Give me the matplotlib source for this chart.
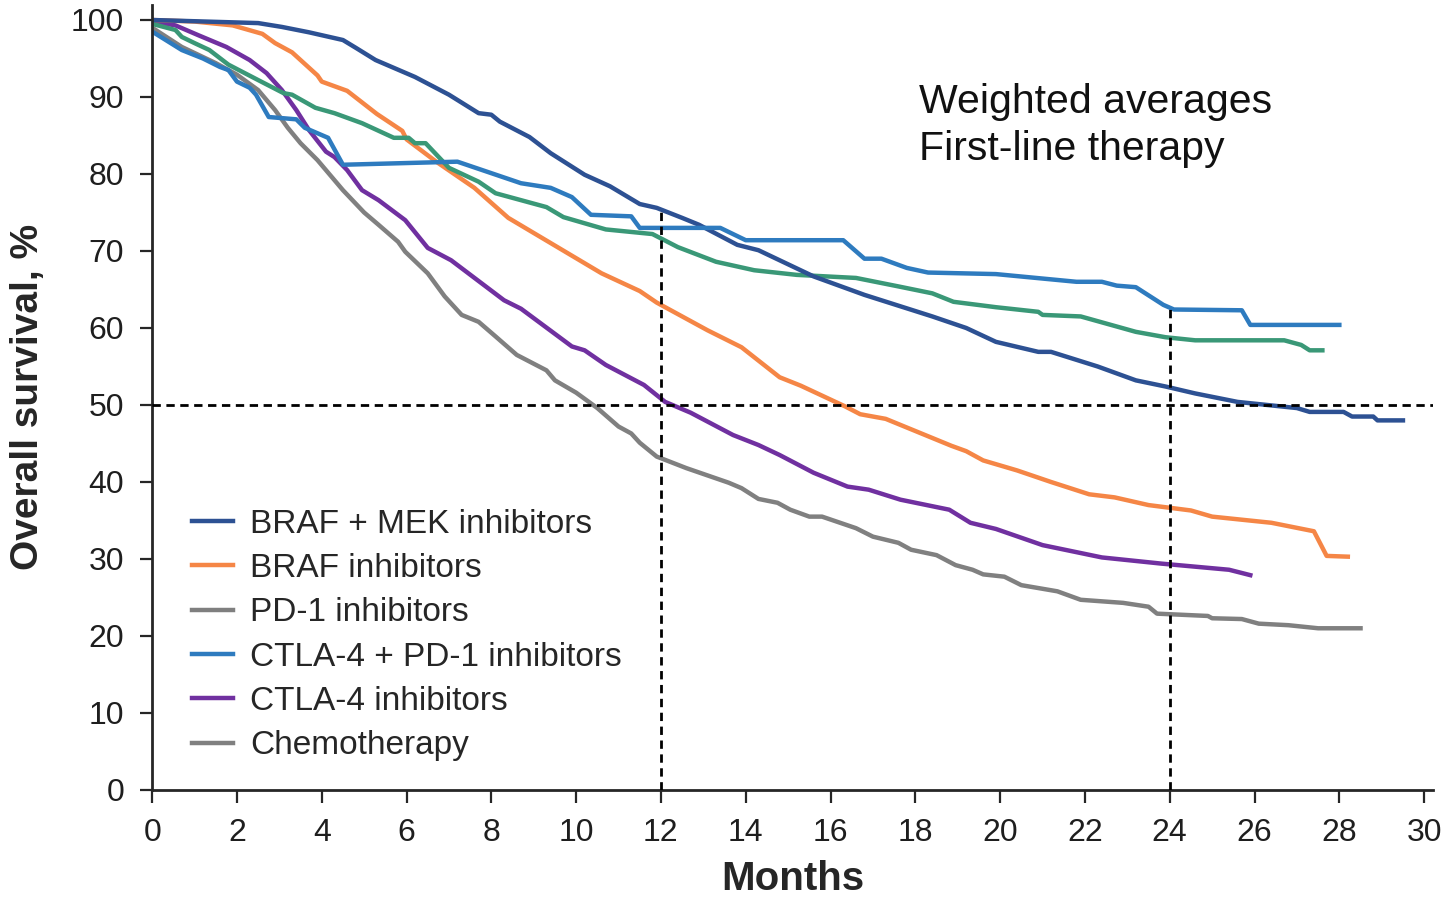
import numpy as np
import matplotlib
matplotlib.use("Agg")
import matplotlib.pyplot as plt
from matplotlib.lines import Line2D

plt.rcParams['font.family'] = ['Liberation Sans', 'DejaVu Sans']

# Weighted average overall survival curves (%)
months_braf_mek = [0, 2.5, 3.06, 3.7, 4.5, 4.8, 5.27, 6.2, 7.0, 7.7, 8.0, 8.2, 8.9, 9.4, 10.2, 10.8,
                   11.5, 11.9, 12.5, 12.9, 13.8, 14.3, 15.6, 16.8, 18.4, 19.2, 19.9, 20.9, 21.2, 22.3,
                   23.2, 23.9, 24.6, 25.6, 27.0, 27.3, 28.1, 28.3, 28.8, 28.9, 29.5]
os_braf_mek = [100, 99.6, 99.1, 98.4, 97.4, 96.4, 94.8, 92.6, 90.3, 87.9, 87.7, 86.8, 84.8, 82.7, 79.9, 78.4,
               76.1, 75.6, 74.3, 73.4, 70.8, 70.1, 66.7, 64.3, 61.5, 60.0, 58.2, 56.9, 56.9, 55.0,
               53.2, 52.4, 51.5, 50.4, 49.6, 49.1, 49.1, 48.5, 48.5, 48.0, 48.0]

months_braf = [0, 1, 1.9, 2.6, 2.9, 3.3, 3.9, 4.0, 4.6, 5.3, 5.9, 6.0, 6.7, 7.6, 8.4, 9.5, 10.6, 11.5,
               11.9, 13.1, 13.9, 14.8, 15.3, 16.35, 16.7, 17.3, 18.85, 19.2, 19.6, 20.4, 21.2, 22.1,
               22.7, 23.5, 24.5, 25.0, 26.4, 27.4, 27.7, 28.2]
os_braf = [100, 99.8, 99.3, 98.2, 97.0, 95.8, 92.8, 92.0, 90.8, 87.8, 85.6, 84.5, 81.6, 78.2, 74.3, 70.7, 67.1, 64.8,
           63.3, 59.7, 57.5, 53.6, 52.5, 49.8, 48.8, 48.2, 44.7, 44.0, 42.8, 41.5, 40.0, 38.4,
           38.0, 37.0, 36.3, 35.5, 34.7, 33.6, 30.4, 30.3]

months_pd1 = [0, 0.55, 0.7, 1.0, 1.35, 1.8, 2.5, 3.1, 3.3, 3.85, 4.3, 4.95, 5.7, 6.05, 6.2, 6.45, 7.0, 7.7,
              8.1, 9.3, 9.7, 10.7, 11.8, 12.4, 13.3, 14.2, 15.2, 16.6, 17.6, 18.4, 18.9, 19.9, 20.9,
              21.0, 21.9, 23.2, 23.9, 24.6, 26.7, 27.1, 27.3, 27.6]
os_pd1 = [99.5, 98.7, 97.8, 97.0, 96.1, 94.2, 92.2, 90.5, 90.3, 88.6, 87.9, 86.6, 84.7, 84.7, 84.0, 84.0, 80.8, 79.0,
          77.5, 75.7, 74.4, 72.8, 72.2, 70.5, 68.6, 67.5, 66.9, 66.5, 65.4, 64.5, 63.4, 62.7, 62.1,
          61.7, 61.5, 59.5, 58.8, 58.4, 58.4, 57.8, 57.1, 57.1]

months_ctla4_pd1 = [0, 0.7, 1.2, 1.6, 1.8, 2.0, 2.3, 2.45, 2.75, 3.4, 3.6, 4.15, 4.5, 7.2, 8.7, 9.4, 9.9,
                    10.35, 11.3, 11.5, 13.4, 14.0, 16.3, 16.8, 17.2, 17.8, 18.3, 19.9, 21.8, 22.4, 22.75,
                    23.2, 23.85, 24.1, 25.7, 25.9, 28.0]
os_ctla4_pd1 = [98.5, 96.1, 95.0, 93.9, 93.5, 92.0, 91.2, 90.3, 87.4, 87.1, 86.0, 84.7, 81.2, 81.6, 78.8, 78.2, 77.0,
                74.7, 74.5, 73.0, 73.0, 71.4, 71.4, 69.0, 69.0, 67.8, 67.2, 67.0, 66.0, 66.0, 65.5,
                65.3, 63.0, 62.4, 62.3, 60.4, 60.4]

months_ctla4 = [0, 0.55, 1.1, 1.75, 2.3, 2.7, 3.06, 3.4, 3.7, 4.1, 4.3, 4.6, 4.95, 5.34, 5.97, 6.5, 7.05,
                8.3, 8.7, 9.9, 10.2, 10.7, 11.6, 12.1, 12.7, 13.7, 14.3, 14.8, 15.6, 16.4, 16.9, 17.65,
                18.8, 19.3, 19.9, 21.0, 22.4, 23.8, 25.4, 25.9]
os_ctla4 = [99.8, 99.3, 98.0, 96.5, 94.8, 93.1, 90.9, 88.3, 85.7, 82.9, 82.2, 80.5, 77.9, 76.6, 74.0, 70.4, 68.8,
            63.6, 62.5, 57.6, 57.1, 55.2, 52.6, 50.4, 49.0, 46.1, 44.8, 43.5, 41.2, 39.4, 39.0, 37.7,
            36.4, 34.7, 33.9, 31.8, 30.2, 29.4, 28.6, 27.9]

months_chemo = [0, 0.7, 1.5, 2.0, 2.5, 2.9, 3.2, 3.5, 3.9, 4.3, 4.5, 5.0, 5.34, 5.8, 5.97, 6.5, 6.9, 7.3,
                7.7, 8.1, 8.6, 9.3, 9.5, 10.0, 10.5, 11.0, 11.3, 11.5, 11.9, 12.6, 13.6, 13.9, 14.3,
                14.75, 15.05, 15.5, 15.8, 16.6, 17.0, 17.6, 17.9, 18.5, 18.95, 19.35, 19.6, 20.1, 20.5,
                21.35, 21.9, 22.9, 23.5, 23.7, 24.9, 25.0, 25.7, 26.1, 26.8, 27.5, 28.5]
os_chemo = [99.0, 96.5, 94.4, 92.9, 90.9, 88.3, 86.0, 84.0, 81.8, 79.2, 77.9, 75.0, 73.4, 71.2, 69.9, 67.1, 64.1, 61.7,
            60.8, 58.9, 56.5, 54.5, 53.2, 51.6, 49.6, 47.2, 46.3, 45.1, 43.3, 41.8, 39.9, 39.2, 37.8,
            37.3, 36.4, 35.5, 35.5, 34.0, 32.9, 32.1, 31.2, 30.5, 29.2, 28.6, 28.0, 27.7, 26.6,
            25.8, 24.7, 24.3, 23.8, 22.9, 22.6, 22.3, 22.2, 21.6, 21.4, 21.0, 21.0]

legend_labels = ['BRAF + MEK inhibitors', 'BRAF inhibitors', 'PD-1 inhibitors',
                 'CTLA-4 + PD-1 inhibitors', 'CTLA-4 inhibitors', 'Chemotherapy']
# the original legend shows PD-1 in gray although its curve is green
legend_colors = ['#2D5193', '#F58646', '#7F7F7F', '#2E7BBF', '#7030A0', '#808080']

c_braf_mek = '#2D5193'
c_braf = '#F58646'
c_pd1 = '#3A9877'
c_ctla4_pd1 = '#2E7BBF'
c_ctla4 = '#7030A0'
c_chemo = '#808080'

fig = plt.figure(figsize=(14.42, 9.02), dpi=100)
ax = fig.add_axes([0.1055, 0.1242, 0.888, 0.8707])

lw = 3.2
ax.plot(months_chemo, os_chemo, color=c_chemo, lw=lw)
ax.plot(months_ctla4, os_ctla4, color=c_ctla4, lw=lw)
ax.plot(months_braf, os_braf, color=c_braf, lw=lw)
ax.plot(months_pd1, os_pd1, color=c_pd1, lw=lw)
ax.plot(months_braf_mek, os_braf_mek, color=c_braf_mek, lw=lw)
ax.plot(months_ctla4_pd1, os_ctla4_pd1, color=c_ctla4_pd1, lw=lw)

# reference lines: median and landmarks at 12 and 24 months
curves = [(months_braf_mek, os_braf_mek), (months_ctla4_pd1, os_ctla4_pd1), (months_pd1, os_pd1)]
dash = (0, (3, 2))
ax.axhline(50, color='black', lw=2, linestyle=dash, zorder=5)
for m in [12, 24]:
    top = max(np.interp(m, x, y) for x, y in curves)
    ax.plot([m, m], [0, top], color='black', lw=2, linestyle=dash, zorder=5)

ax.set_xlim(0, 30.2)
ax.set_ylim(0, 102)
ax.set_xticks(np.arange(0, 31, 2))
ax.set_yticks(np.arange(0, 101, 10))

for side in ['top', 'right']:
    ax.spines[side].set_visible(False)
for side in ['left', 'bottom']:
    ax.spines[side].set_linewidth(2)
    ax.spines[side].set_color('#262626')
ax.tick_params(direction='out', length=9, width=1.6, color='#262626',
               labelsize=23, pad=11, labelcolor='#1e1e1e')

ax.set_xlabel('Months', fontsize=29, fontweight='bold', color='#262626', labelpad=9)
ax.set_ylabel('Overall survival, %', fontsize=28, fontweight='bold', color='#262626', labelpad=18)

handles = [Line2D([], [], color=c, lw=3.2) for c in legend_colors]
ax.legend(handles, legend_labels, loc='upper left', bbox_to_anchor=(0.031, 0.358),
          frameon=False, fontsize=24, handlelength=1.25, handletextpad=0.5,
          labelspacing=0.4, borderpad=0, borderaxespad=0, labelcolor='#262626')

ax.text(0.599, 0.9, 'Weighted averages\nFirst-line therapy', transform=ax.transAxes,
        fontsize=29.5, va='top', ha='left', color='#111111', linespacing=1.3)

fig.savefig('out.png', dpi=100)
